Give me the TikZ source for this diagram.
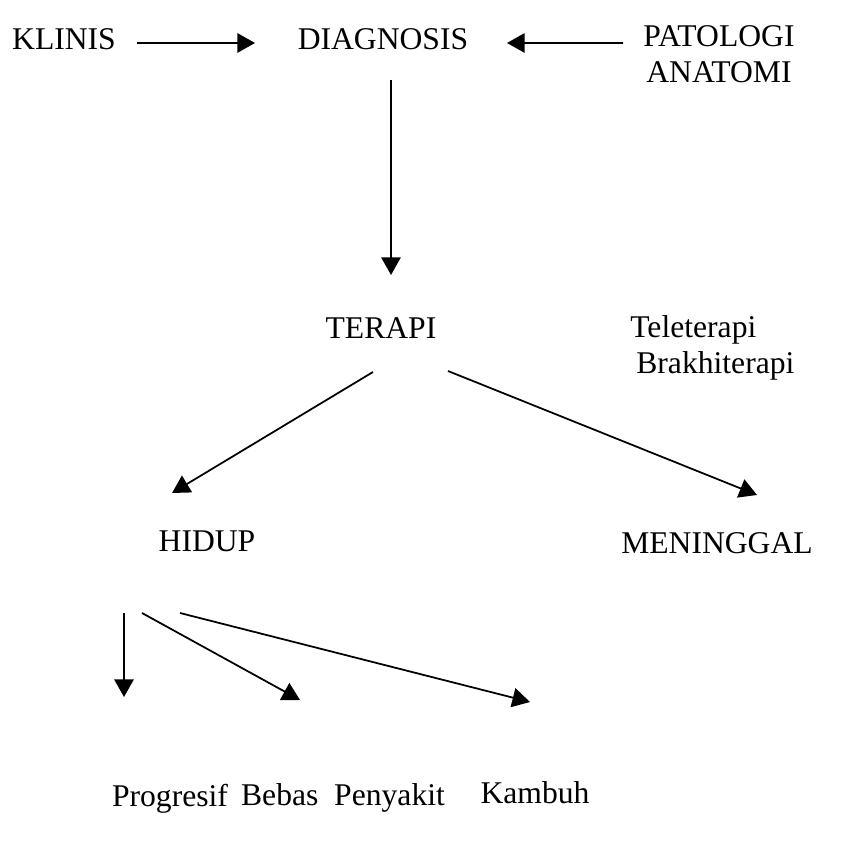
\documentclass[tikz,border=0pt]{standalone}
\usepackage{fontspec}
\setmainfont{Liberation Serif}
\newfontfamily\timesfont{Liberation Serif}
\usetikzlibrary{arrows.meta}
\tikzstyle{arrow} = [draw, -{Triangle[length=10pt, width=11pt]}, line width=1pt]
\tikzstyle{term} = [inner sep=0pt, anchor=base, font=\timesfont\fontsize{18}{20.4}\selectfont]

\begin{document}
\begin{tikzpicture}[x=0.02cm, y=-0.02cm]
	\useasboundingbox (0,0) rectangle (866,844);
	% top row
	\node[term] (klinis) at (64,50) {KLINIS};
	\node[term] (diagnosis) at (383,50) {DIAGNOSIS};
	\node[term, align=center, anchor=north] (patologi) at (719,25) {PATOLOGI\\ANATOMI};
	% therapy
	\node[term] (terapi) at (381,339) {TERAPI};
	\node[term, anchor=base west] (tele) at (630,338) {Teleterapi};
	\node[term, anchor=base west] (brakhi) at (636,374) {Brakhiterapi};
	% outcome
	\node[term] (hidup) at (207,552) {HIDUP};
	\node[term] (meninggal) at (717,554) {MENINGGAL};
	\node[term] (progresif) at (170,806) {Progresif};
	\node[term] (bebas) at (343,805) {Bebas\ \ Penyakit};
	\node[term] (kambuh) at (535,803) {Kambuh};

	\draw[arrow] ([shift={(73,-7)}]klinis.base) -- ([shift={(-128,-7)}]diagnosis.base);
	\draw[arrow] ([shift={(-20,-11)}]patologi.west) -- ([shift={(124,-7)}]diagnosis.base);
	\draw[arrow] ([shift={(8,30)}]diagnosis.base) -- ([shift={(10,-64)}]terapi.base);
	\draw[arrow] ([shift={(-8,33)}]terapi.base) -- ([shift={(-35,-59)}]hidup.base);
	\draw[arrow] ([shift={(67,32)}]terapi.base) -- ([shift={(40,-59)}]meninggal.base);
	\draw[arrow] ([shift={(-83,61)}]hidup.base) -- ([shift={(-46,-109)}]progresif.base);
	\draw[arrow] ([shift={(-65,61)}]hidup.base) -- ([shift={(-43,-105)}]bebas.base);
	\draw[arrow] ([shift={(-27,61)}]hidup.base) -- ([shift={(-5,-101)}]kambuh.base);
\end{tikzpicture}
\end{document}
